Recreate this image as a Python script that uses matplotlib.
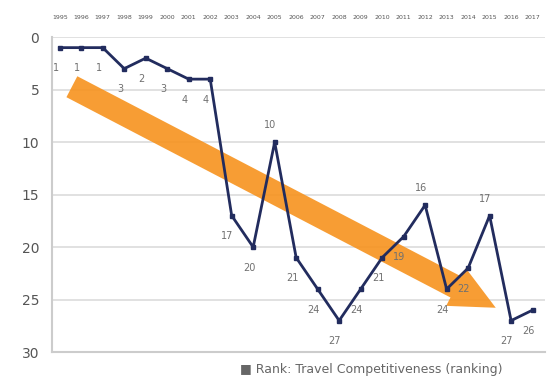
import numpy as np
import matplotlib.pyplot as plt
from matplotlib.patches import FancyArrowPatch

years = [str(y) for y in range(1995, 2018)]
rank = [1, 1, 1, 3, 2, 3, 4, 4, 17, 20, 10, 21, 24, 27, 24, 21, 19, 16, 24, 22, 17, 27, 26]
above = {10, 17, 20}  # peaks labelled above the point

x = np.arange(len(rank))

fig = plt.figure(figsize=(5.51, 3.79), dpi=100)
ax = fig.add_axes([0.094, 0.071, 0.896, 0.831])

ax.plot(x, rank, color="#222c5e", lw=2, marker="s", ms=3.5, zorder=3)
for i, (xi, r) in enumerate(zip(x, rank)):
    dy = 12 if i in above else -15
    ax.annotate(str(r), (xi, r), xytext=(-3, dy), textcoords="offset points",
                fontsize=7, color="#707070", ha="center", va="center", zorder=4)

arrow = FancyArrowPatch((0.45, 4.6), (20.4, 25.9),
                        arrowstyle="simple,head_length=1.9,head_width=1.8,tail_width=1.0",
                        mutation_scale=17, color="#f7931e", alpha=0.9, lw=0, zorder=2)
ax.add_patch(arrow)

ax.set_ylim(30, 0)
ax.set_xlim(-0.37, 22.6)
ax.set_yticks(range(0, 31, 5))
ax.yaxis.grid(True, color="#dcdcdc", lw=1.2)
ax.set_axisbelow(True)
ax.xaxis.tick_top()
ax.set_xticks(x)
ax.set_xticklabels(years, fontsize=4.5, color="#555555")
ax.tick_params(axis="x", length=0, pad=12)
ax.tick_params(axis="y", length=0, labelsize=10, colors="#555555", pad=9)
for s in ["top", "right"]:
    ax.spines[s].set_visible(False)
for s in ["left", "bottom"]:
    ax.spines[s].set_color("#cccccc")
    ax.spines[s].set_linewidth(1.5)

fig.text(0.435, 0.025, "\u25a0 Rank: Travel Competitiveness (ranking)", fontsize=9,
         color="#666666", va="center")

fig.savefig("out.png", dpi=100)
